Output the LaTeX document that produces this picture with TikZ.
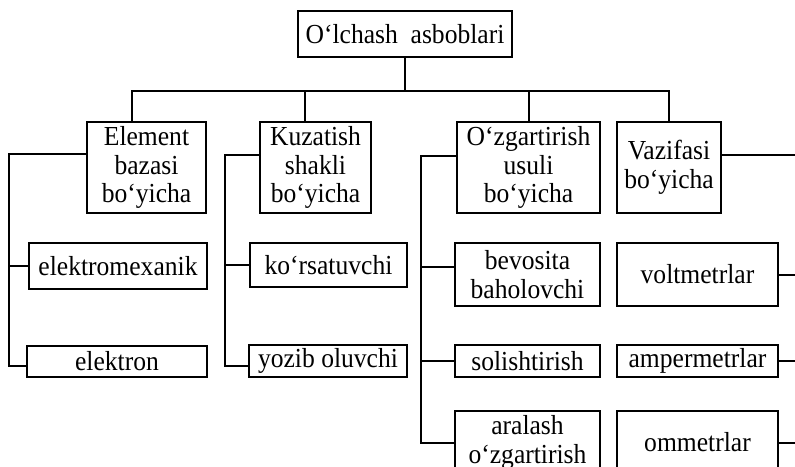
\documentclass[tikz,border=0pt]{standalone}
\usepackage{fontspec}
\setmainfont{Liberation Serif}[FakeStretch=0.93]

\begin{document}
\begin{tikzpicture}[
x=0.4pt, y=-0.4pt,
box/.style={rectangle, draw, line width=0.8pt, inner sep=0pt, align=center, font=\fontsize{11}{11.4}\selectfont},
line/.style={line width=0.8pt}
]
    \useasboundingbox (0,0) rectangle (795,467);
    \clip (0,0) rectangle (795,467);

    % top
    \node[box, minimum width=85.6pt, minimum height=18.4pt] (top) at (405,34) {O‘lchash~ asboblari};

    % groups
    \node[box, minimum width=47.6pt, minimum height=36.4pt] (elem) at (146.5,167.5) {Element\\bazasi\\bo‘yicha};
    \node[box, minimum width=44.4pt, minimum height=36.4pt] (kuz) at (315.5,167.5) {Kuzatish\\shakli\\bo‘yicha};
    \node[box, minimum width=57.2pt, minimum height=36.4pt] (ozg) at (528.5,167.5) {O‘zgartirish\\usuli\\bo‘yicha};
    \node[box, minimum width=41.6pt, minimum height=36.4pt] (vaz) at (669,167.5) {Vazifasi\\bo‘yicha};

    % leaves
    \node[box, minimum width=71.2pt, minimum height=18.4pt] (mex) at (118,266) {elektromexanik};
    \node[box, minimum width=72pt, minimum height=12.4pt] (elek) at (117,361.5) {elektron};
    \node[box, minimum width=62.8pt, minimum height=17.6pt] (kor) at (328.5,265) {ko‘rsatuvchi};
    \node[box, minimum width=63.2pt, minimum height=12.8pt] (yoz) at (328,361) {yozib oluvchi};
    \node[box, minimum width=58pt, minimum height=25.2pt] (bev) at (527.5,274.5) {bevosita\\baholovchi};
    \node[box, minimum width=58pt, minimum height=12.8pt] (sol) at (527.5,361) {solishtirish};
    \node[box, minimum width=58pt, minimum height=25.2pt] (ara) at (527.5,442.5) {aralash\\o‘zgartirish};
    \node[box, minimum width=64.4pt, minimum height=25.2pt] (volt) at (697.5,274.5) {voltmetrlar};
    \node[box, minimum width=64.4pt, minimum height=12.8pt] (amp) at (697.5,361) {ampermetrlar};
    \node[box, minimum width=64.4pt, minimum height=25.2pt] (omm) at (697.5,442.5) {ommetrlar};

    % bus under top
    \coordinate (bus) at ([yshift=-13.2pt]top.south);
    \draw[line] (top) -- (bus);
    \draw[line] ([xshift=-5.8pt]elem.north) |- (bus);
    \draw[line] ([xshift=-4.2pt]kuz.north) |- (bus);
    \draw[line] (ozg.north) |- (bus);
    \draw[line] (vaz.north) |- (bus);

    % left buses
    \coordinate (elemL) at ([xshift=-30.8pt,yshift=5.4pt]elem.west);
    \draw[line] ([yshift=5.4pt]elem.west) -- (elemL) |- ([yshift=-1.8pt]elek.west);
    \draw[line] (elemL |- mex.west) -- (mex.west);

    \coordinate (kuzL) at ([xshift=-13.6pt,yshift=5pt]kuz.west);
    \draw[line] ([yshift=5pt]kuz.west) -- (kuzL) |- ([yshift=-2pt]yoz.west);
    \draw[line] (kuzL |- kor.west) -- (kor.west);

    \coordinate (ozgL) at ([xshift=-14pt,yshift=4.6pt]ozg.west);
    \draw[line] ([yshift=4.6pt]ozg.west) -- (ozgL) |- (ara.west);
    \draw[line] (ozgL |- sol.west) -- (sol.west);
    \draw[line] ([yshift=3pt]ozgL |- bev.west) -- ([yshift=3pt]bev.west);

    % right side
    \coordinate (edge) at (795,0);
    \draw[line] ([yshift=5pt]vaz.east) -- ([yshift=5pt]vaz.east -| edge);
    \foreach \n in {volt,amp,omm}
        \draw[line] (\n.east) -- (\n.east -| edge);

\end{tikzpicture}
\end{document}
